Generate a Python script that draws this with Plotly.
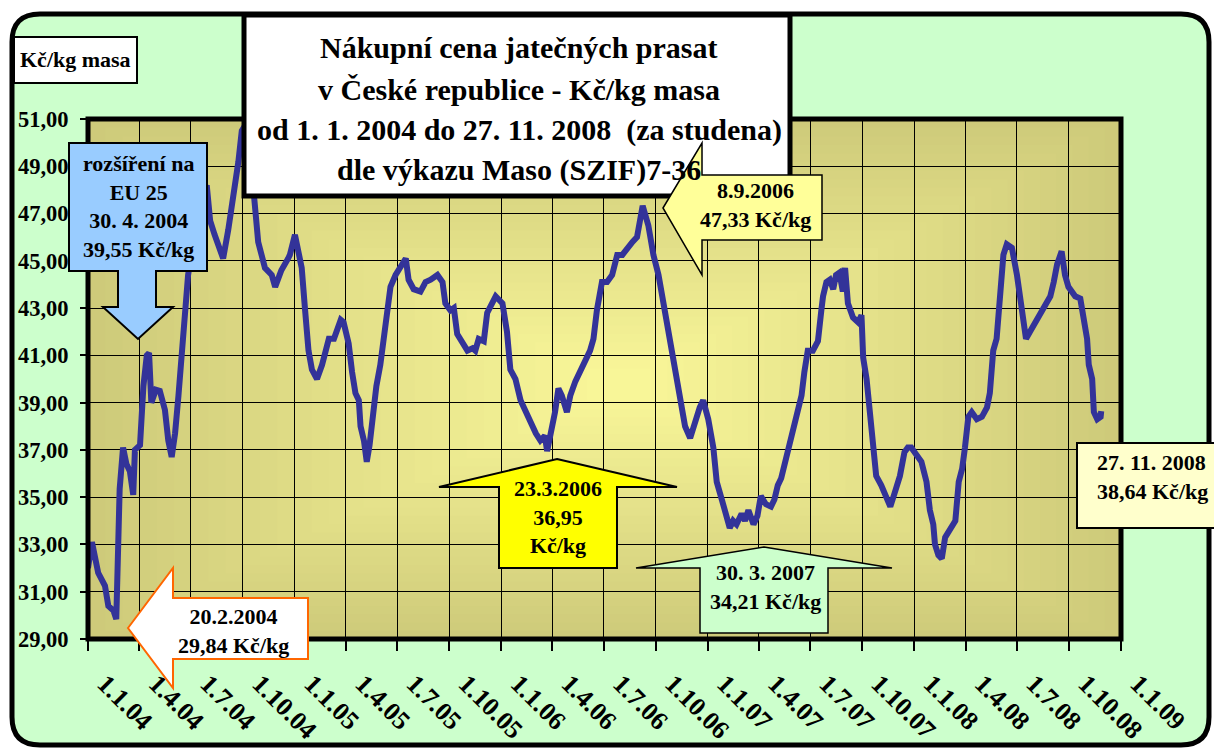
import plotly.graph_objects as go

# ---------------- data ----------------
DATES = [
    "2004-01-01", "2004-01-08", "2004-01-19", "2004-01-31", "2004-02-06", "2004-02-15", "2004-02-20",
    "2004-02-26", "2004-03-03", "2004-03-09", "2004-03-15", "2004-03-21", "2004-03-24", "2004-04-02",
    "2004-04-08", "2004-04-14", "2004-04-18", "2004-04-22", "2004-04-30", "2004-05-07", "2004-05-16",
    "2004-05-22", "2004-05-28", "2004-06-03", "2004-06-09", "2004-06-15", "2004-06-20", "2004-06-26",
    "2004-07-08", "2004-07-18", "2004-07-29", "2004-08-04", "2004-08-12", "2004-08-21", "2004-08-27",
    "2004-09-05", "2004-09-14", "2004-09-23", "2004-09-29", "2004-10-07", "2004-10-14", "2004-10-22",
    "2004-10-28", "2004-11-09", "2004-11-21", "2004-11-27", "2004-12-08", "2004-12-20", "2004-12-23",
    "2005-01-01", "2005-01-07", "2005-01-13", "2005-01-19", "2005-01-25", "2005-01-31", "2005-02-09",
    "2005-02-18", "2005-02-24", "2005-03-02", "2005-03-11", "2005-03-17", "2005-03-23", "2005-03-28",
    "2005-04-06", "2005-04-12", "2005-04-18", "2005-04-24", "2005-04-27", "2005-05-03", "2005-05-08",
    "2005-05-13", "2005-05-19", "2005-05-25", "2005-06-01", "2005-06-07", "2005-06-13", "2005-06-19",
    "2005-06-28", "2005-07-07", "2005-07-16", "2005-07-21", "2005-07-30", "2005-08-11", "2005-08-20",
    "2005-08-29", "2005-09-10", "2005-09-19", "2005-09-24", "2005-10-03", "2005-10-09", "2005-10-15",
    "2005-10-24", "2005-11-02", "2005-11-11", "2005-11-16", "2005-11-22", "2005-12-01", "2005-12-07",
    "2005-12-16", "2005-12-22",
    "2006-01-03", "2006-01-11", "2006-01-17", "2006-01-26", "2006-02-04", "2006-02-13", "2006-02-22",
    "2006-03-03", "2006-03-11", "2006-03-19", "2006-03-23", "2006-03-31", "2006-04-06", "2006-04-12",
    "2006-04-18", "2006-04-27", "2006-05-03", "2006-05-12", "2006-05-20", "2006-05-29", "2006-06-07",
    "2006-06-13", "2006-06-19", "2006-06-28", "2006-07-07", "2006-07-16", "2006-07-25", "2006-08-03",
    "2006-08-12", "2006-08-21", "2006-08-29", "2006-09-04", "2006-09-08", "2006-09-18", "2006-09-27",
    "2006-10-06", "2006-10-15", "2006-10-23", "2006-11-01", "2006-11-10", "2006-11-16", "2006-11-22",
    "2006-12-01", "2006-12-10", "2006-12-18", "2006-12-24",
    "2007-01-02", "2007-01-11", "2007-01-17", "2007-01-26", "2007-02-04", "2007-02-09", "2007-02-15",
    "2007-02-21", "2007-03-02", "2007-03-08", "2007-03-14", "2007-03-23", "2007-03-30", "2007-04-05",
    "2007-04-14", "2007-04-23", "2007-04-29", "2007-05-05", "2007-05-11", "2007-05-17", "2007-05-26",
    "2007-06-04", "2007-06-10", "2007-06-16", "2007-06-21", "2007-06-27", "2007-07-06", "2007-07-15",
    "2007-07-21", "2007-07-24", "2007-07-30", "2007-08-05", "2007-08-11", "2007-08-16", "2007-08-22",
    "2007-08-28", "2007-09-01", "2007-09-06", "2007-09-15", "2007-09-24", "2007-09-30", "2007-10-03",
    "2007-10-09", "2007-10-14", "2007-10-20", "2007-10-26", "2007-11-04", "2007-11-13", "2007-11-20",
    "2007-11-28", "2007-12-07", "2007-12-15", "2007-12-21", "2007-12-27",
    "2008-01-05", "2008-01-14", "2008-01-23", "2008-01-29", "2008-02-04", "2008-02-07", "2008-02-13",
    "2008-02-19", "2008-02-25", "2008-03-05", "2008-03-14", "2008-03-20", "2008-03-26", "2008-03-31",
    "2008-04-06", "2008-04-12", "2008-04-21", "2008-04-30", "2008-05-09", "2008-05-14", "2008-05-20",
    "2008-05-26", "2008-06-01", "2008-06-07", "2008-06-13", "2008-06-22", "2008-07-01", "2008-07-07",
    "2008-07-13", "2008-07-17", "2008-07-24", "2008-08-02", "2008-08-11", "2008-08-20", "2008-08-29",
    "2008-09-04", "2008-09-10", "2008-09-18", "2008-09-24", "2008-09-30", "2008-10-06", "2008-10-12",
    "2008-10-21", "2008-10-27", "2008-11-02", "2008-11-05", "2008-11-11", "2008-11-14", "2008-11-20",
    "2008-11-26", "2008-11-27",
]
PRICES = [
    32.0, 33.1, 31.8, 31.25, 30.4, 30.2, 29.84,
    35.35, 37.1, 36.4, 36.1, 35.1, 37.0, 37.2,
    39.7, 41.0, 41.1, 39.0, 39.55, 39.5, 38.7,
    37.4, 36.7, 37.7, 39.3, 41.2, 42.9, 44.4,
    46.2, 47.4, 48.2, 46.7, 46.1, 45.5, 45.1,
    46.3, 47.7, 49.2, 50.5, 50.8, 49.5, 47.6,
    45.8, 44.7, 44.4, 43.9, 44.6, 45.1, 45.25,
    46.1, 45.25, 44.7, 42.9, 41.2, 40.4, 40.0,
    40.6, 41.3, 41.7, 41.7, 42.1, 42.5, 42.4,
    41.5, 40.3, 39.4, 39.1, 38.0, 37.4, 36.5,
    37.2, 38.6, 39.7, 40.6, 41.75, 42.8, 43.9,
    44.4, 44.7, 45.1, 44.2, 43.8, 43.7, 44.1,
    44.2, 44.4, 44.1, 43.2, 42.9, 43.0, 41.9,
    41.6, 41.2, 41.3, 41.2, 41.7, 41.6, 42.8,
    43.2, 43.5,
    43.2, 42.0, 40.4, 40.0, 39.1, 38.6, 38.2,
    37.7, 37.4, 37.6, 36.95, 37.8, 38.6, 39.6,
    39.3, 38.6, 39.3, 39.9, 40.3, 40.8, 41.2,
    41.7, 42.9, 44.1, 44.1, 44.4, 45.25, 45.25,
    45.55, 45.8, 46.0, 46.7, 47.33, 46.5, 45.25,
    44.4, 43.2, 42.0, 40.9, 39.7, 38.8, 38.0,
    37.5, 38.3, 38.8, 39.1,
    38.3, 37.1, 35.65, 34.9, 34.15, 33.7, 34.0,
    33.85, 34.3, 34.0, 34.45, 33.85, 34.21, 35.05,
    34.7, 34.6, 34.9, 35.5, 35.8, 36.35, 37.4,
    38.0, 38.6, 39.3, 40.3, 41.2, 41.2, 41.6,
    42.9, 43.5, 44.1, 44.2, 43.8, 44.4, 44.5,
    43.7, 44.7, 43.2, 42.6, 42.4, 42.7, 40.9,
    40.0, 38.6, 37.4, 35.9, 35.5, 35.05, 34.6,
    35.2, 35.9, 36.9, 37.1, 37.1,
    36.8, 36.5, 35.65, 34.45, 33.85, 33.0, 32.55,
    32.4, 33.3, 33.6, 34.0, 35.65, 36.2, 37.1,
    38.4, 38.6, 38.3, 38.4, 38.8, 39.4, 41.2,
    41.7, 43.2, 45.25, 45.7, 45.55, 44.4, 43.2,
    42.4, 41.7, 42.0, 42.4, 42.8, 43.2, 43.5,
    44.1, 44.85, 45.4, 44.4, 43.9, 43.7, 43.5,
    43.4, 42.7, 41.7, 40.6, 40.0, 38.6, 38.3,
    38.4, 38.64,
]

X_TICK_DATES = [
    "2004-01-01", "2004-04-01", "2004-07-01", "2004-10-01",
    "2005-01-01", "2005-04-01", "2005-07-01", "2005-10-01",
    "2006-01-01", "2006-04-01", "2006-07-01", "2006-10-01",
    "2007-01-01", "2007-04-01", "2007-07-01", "2007-10-01",
    "2008-01-01", "2008-04-01", "2008-07-01", "2008-10-01",
    "2009-01-01",
]
X_TICK_LABELS = [
    "1.1.04", "1.4.04", "1.7.04", "1.10.04",
    "1.1.05", "1.4.05", "1.7.05", "1.10.05",
    "1.1.06", "1.4.06", "1.7.06", "1.10.06",
    "1.1.07", "1.4.07", "1.7.07", "1.10.07",
    "1.1.08", "1.4.08", "1.7.08", "1.10.08",
    "1.1.09",
]
Y_TICKS = [29, 31, 33, 35, 37, 39, 41, 43, 45, 47, 49, 51]
Y_TICK_LABELS = ["29,00", "31,00", "33,00", "35,00", "37,00", "39,00",
                 "41,00", "43,00", "45,00", "47,00", "49,00", "51,00"]

TITLE_LINES = [
    "Nákupní cena jatečných prasat",
    "v České republice - Kč/kg masa",
    "od 1. 1. 2004 do 27. 11. 2008 \u00a0(za studena)",
    "dle výkazu Maso (SZIF)7-36",
]

# ---------------- layout geometry (pixels) ----------------
W, H = 1214, 749
L, R, T, B = 88, 1121, 119, 639
PW, PH = R - L, B - T
SERIF = "Liberation Serif"


def P(x, y):
    return (x - L) / PW, (B - y) / PH


def pp(x, y):
    a, b = P(x, y)
    return f"{a:.5f},{b:.5f}"


def path(points):
    s = ""
    for i, (x, y) in enumerate(points):
        s += ("M" if i == 0 else "L") + pp(x, y) + " "
    return s + "Z"


def rect_shape(x0, y0, x1, y1, fill, line_color="black", lw=2, layer="above"):
    a, b = P(x0, y1)
    c, d = P(x1, y0)
    return dict(type="rect", xref="paper", yref="paper", x0=a, y0=b, x1=c, y1=d,
                fillcolor=fill, line=dict(color=line_color, width=lw), layer=layer)


shapes = []

# outer rounded light-green panel
x0, y0, x1, y1, r = 12, 14, 1209, 745, 28
outer = (f"M{pp(x0 + r, y0)} L{pp(x1 - r, y0)} Q{pp(x1, y0)} {pp(x1, y0 + r)} "
         f"L{pp(x1, y1 - r)} Q{pp(x1, y1)} {pp(x1 - r, y1)} L{pp(x0 + r, y1)} "
         f"Q{pp(x0, y1)} {pp(x0, y1 - r)} L{pp(x0, y0 + r)} Q{pp(x0, y0)} {pp(x0 + r, y0)} Z")
shapes.append(dict(type="path", xref="paper", yref="paper", path=outer,
                   fillcolor="#ccffcc", line=dict(color="black", width=5), layer="below"))

# plot-area gradient (olive edges -> light yellow centre)
CX, CY = 620, 385
EDGE = (206, 202, 122)
CENTRE = (248, 246, 152)
N = 30
for i in range(N):
    t = i / N * 0.97
    rx0 = L + (CX - L) * t
    rx1 = R - (R - CX) * t
    ry0 = T + (CY - T) * t
    ry1 = B - (B - CY) * t
    c = tuple(int(round(EDGE[k] + (CENTRE[k] - EDGE[k]) * (i / (N - 1)))) for k in range(3))
    shapes.append(rect_shape(rx0, ry0, rx1, ry1, f"rgb{c}", line_color="rgba(0,0,0,0)",
                             lw=0, layer="below"))

# plot-area frame
shapes.append(dict(type="rect", xref="paper", yref="paper", x0=0, y0=0, x1=1, y1=1,
                   line=dict(color="black", width=5), fillcolor="rgba(0,0,0,0)", layer="above"))

# "Kč/kg masa" box
shapes.append(rect_shape(14, 37, 137, 83, "white", lw=2))
# title box
shapes.append(rect_shape(244, 15, 790, 196, "white", lw=5))

# callouts
shapes.append(dict(type="path", xref="paper", yref="paper", layer="above",
                   path=path([(69, 143), (207, 143), (207, 271), (156, 271), (156, 307), (173, 307),
                              (138, 339), (103, 307), (118, 307), (118, 271), (69, 271)]),
                   fillcolor="#99ccff", line=dict(color="black", width=2)))
shapes.append(dict(type="path", xref="paper", yref="paper", layer="above",
                   path=path([(128, 628), (173, 568), (173, 598), (308, 598), (308, 659),
                              (173, 659), (173, 688)]),
                   fillcolor="white", line=dict(color="#ff6600", width=2)))
shapes.append(dict(type="path", xref="paper", yref="paper", layer="above",
                   path=path([(557, 459), (677, 487), (617, 487), (617, 568), (499, 568),
                              (499, 487), (439, 487)]),
                   fillcolor="#ffff00", line=dict(color="black", width=2)))
shapes.append(dict(type="path", xref="paper", yref="paper", layer="above",
                   path=path([(764, 547), (892, 568), (828, 568), (828, 633), (700, 633),
                              (700, 568), (636, 568)]),
                   fillcolor="#ccffcc", line=dict(color="black", width=1.5)))
shapes.append(dict(type="path", xref="paper", yref="paper", layer="above",
                   path=path([(663, 208), (702, 143), (702, 175), (822, 175), (822, 240),
                              (702, 240), (702, 275)]),
                   fillcolor="#ffff99", line=dict(color="black", width=1.5)))
shapes.append(rect_shape(1077, 443, 1222, 528, "#ffffcc", lw=2))

# ---------------- annotations ----------------
annotations = []


def txt(x, y, text, size=22, xanchor="center", align="center"):
    a, b = P(x, y)
    annotations.append(dict(x=a, y=b, xref="paper", yref="paper", text=text, showarrow=False,
                            xanchor=xanchor, yanchor="middle", align=align,
                            font=dict(family=SERIF, size=size, color="black", weight="bold")))


title_y = [47, 89, 130, 170]
for line, yy in zip(TITLE_LINES, title_y):
    txt(519, yy, line, size=30)

txt(75, 60, "Kč/kg masa", size=22)
txt(138, 207, "rozšíření na<br>EU 25<br>30. 4. 2004<br>39,55 Kč/kg", size=22)
txt(233, 631, "20.2.2004<br>29,84 Kč/kg", size=22)
txt(558, 517, "23.3.2006<br>36,95<br>Kč/kg", size=22)
txt(765, 587, "30. 3. 2007<br>34,21 Kč/kg", size=22)
txt(755, 205, "8.9.2006<br>47,33 Kč/kg", size=22)
txt(1095, 477, "27. 11. 2008<br>38,64 Kč/kg", size=22, xanchor="left", align="left")

# ---------------- figure ----------------
fig = go.Figure()
fig.add_trace(go.Scatter(x=DATES, y=PRICES, mode="lines",
                         line=dict(color="#333399", width=6), hoverinfo="x+y"))

fig.update_layout(
    width=W, height=H, autosize=False,
    margin=dict(l=L, r=W - R, t=T, b=H - B, pad=0),
    paper_bgcolor="white", plot_bgcolor="rgba(0,0,0,0)",
    showlegend=False,
    shapes=shapes, annotations=annotations,
    xaxis=dict(type="date", range=["2004-01-01", "2009-01-01"],
               tickmode="array", tickvals=X_TICK_DATES, ticktext=X_TICK_LABELS,
               tickangle=45, ticks="outside", ticklen=11, tickwidth=1.5, tickcolor="black",
               showgrid=True, gridcolor="black", gridwidth=1, showline=False, zeroline=False,
               tickfont=dict(family=SERIF, size=26, color="black", weight="bold"),
               ticklabelstandoff=7, ticklabelshift=17, automargin=False),
    yaxis=dict(range=[29, 51], tickmode="array", tickvals=Y_TICKS, ticktext=Y_TICK_LABELS,
               ticks="outside", ticklen=7, tickwidth=1.5, tickcolor="black",
               showgrid=True, gridcolor="black", gridwidth=1, showline=False, zeroline=False,
               tickfont=dict(family=SERIF, size=22.5, color="black", weight="bold"),
               ticklabelstandoff=7, automargin=False),
)

fig.write_html("out.html", config={"displayModeBar": False},
               post_script="document.body.style.margin='0px';")
